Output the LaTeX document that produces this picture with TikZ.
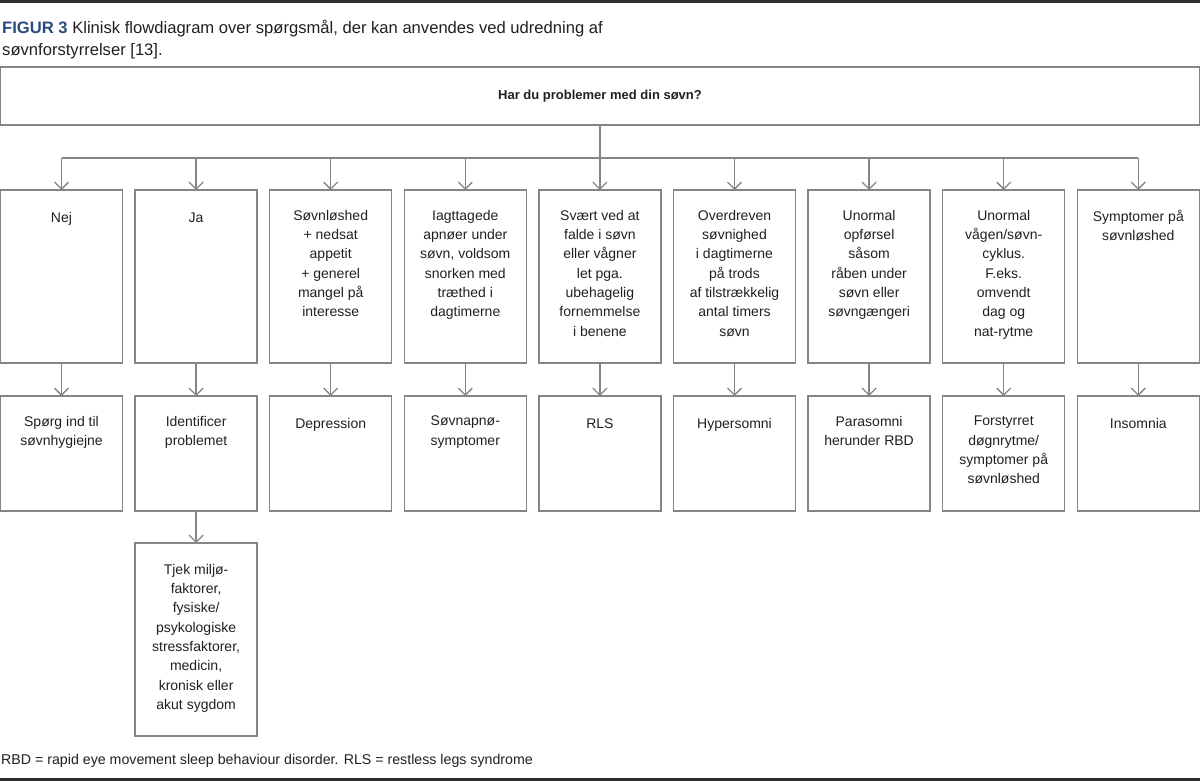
\documentclass[tikz,border=0pt]{standalone}
\usepackage{fontspec}
\setmainfont{Liberation Sans}
\usepackage{tikz}
\usetikzlibrary{
  arrows.meta,
  positioning
}
\definecolor{fgBlue}{HTML}{2B4A7D}
\definecolor{fgText}{HTML}{231F20}
\definecolor{fgLine}{HTML}{858585}
\definecolor{fgRule}{HTML}{2E2E2E}
\newcommand{\fgstrut}{\rule{0pt}{12pt}}
\tikzset{
  fgbox/.style={
    draw=fgLine, line width=1.3pt, minimum width=122pt, inner sep=0pt, outer sep=0pt
  },
  askbox/.style={fgbox, minimum height=173pt},
  ansbox/.style={fgbox, minimum height=115pt},
  fgtext/.style={
    font=\fontsize{14}{19.3}\selectfont, text=fgText, align=center, inner sep=0pt,
    execute at begin node=\fgstrut
  },
  conn/.style={-{Straight Barb[length=7pt, width=14pt]}, draw=fgLine, line width=1.3pt},
  busline/.style={draw=fgLine, line width=1.3pt},
  rule/.style={draw=fgRule, line width=3pt}
}

\begin{document}
\begin{tikzpicture}[x=1pt, y=-1pt, node distance=12.6pt]
  \useasboundingbox (0,0) rectangle (1200,781);
  \draw[rule] (0,1.5) -- (1200,1.5);
  \draw[rule] (0,779.5) -- (1200,779.5);
  % caption
  \node[fgtext, font=\fontsize{16.6}{21.5}\selectfont, align=left, anchor=north west] (caption) at (2,20)
    {\textcolor{fgBlue}{\bfseries FIGUR 3} Klinisk flowdiagram over spørgsmål, der kan anvendes ved udredning af\\søvnforstyrrelser [13].};
  % question
  \node[fgbox, minimum width=1199pt, minimum height=58pt, anchor=north west,
        font=\bfseries\fontsize{13}{16}\selectfont, text=fgText] (top) at (0.5,67) {Har du problemer med din søvn?};
  % first row
  \node[askbox, anchor=north west] (q1) at (0.5,190) {};
  \node[askbox, right=of q1] (q2) {};
  \node[askbox, right=of q2] (q3) {};
  \node[askbox, right=of q3] (q4) {};
  \node[askbox, right=of q4] (q5) {};
  \node[askbox, right=of q5] (q6) {};
  \node[askbox, right=of q6] (q7) {};
  \node[askbox, right=of q7] (q8) {};
  \node[askbox, right=of q8] (q9) {};
  \node[fgtext, below=20pt of q1.north] (tq1) {Nej};
  \node[fgtext, below=20pt of q2.north] (tq2) {Ja};
  \node[fgtext, below=20pt of q3.north] (tq3) {Søvnløshed\\+ nedsat\\appetit\\+ generel\\mangel på\\interesse};
  \node[fgtext, below=20pt of q4.north] (tq4) {Iagttagede\\apnøer under\\søvn, voldsom\\snorken med\\træthed i\\dagtimerne};
  \node[fgtext, below=20pt of q5.north] (tq5) {Svært ved at\\falde i søvn\\eller vågner\\let pga.\\ubehagelig\\fornemmelse\\i benene};
  \node[fgtext, below=20pt of q6.north] (tq6) {Overdreven\\søvnighed\\i dagtimerne\\på trods\\af tilstrækkelig\\antal timers\\søvn};
  \node[fgtext, below=20pt of q7.north] (tq7) {Unormal\\opførsel\\såsom\\råben under\\søvn eller\\søvngængeri};
  \node[fgtext, below=20pt of q8.north] (tq8) {Unormal\\vågen/søvn-\\cyklus.\\F.eks.\\omvendt\\dag og\\nat-rytme};
  \node[fgtext, below=20pt of q9.north] (tq9) {Symptomer på\\søvnløshed};
  % second row
  \node[ansbox, below=33pt of q1] (a1) {};
  \node[ansbox, below=33pt of q2] (a2) {};
  \node[ansbox, below=33pt of q3] (a3) {};
  \node[ansbox, below=33pt of q4] (a4) {};
  \node[ansbox, below=33pt of q5] (a5) {};
  \node[ansbox, below=33pt of q6] (a6) {};
  \node[ansbox, below=33pt of q7] (a7) {};
  \node[ansbox, below=33pt of q8] (a8) {};
  \node[ansbox, below=33pt of q9] (a9) {};
  \node[fgtext, below=20pt of a1.north] (ta1) {Spørg ind til\\søvnhygiejne};
  \node[fgtext, below=20pt of a2.north] (ta2) {Identificer\\problemet};
  \node[fgtext, below=20pt of a3.north] (ta3) {Depression};
  \node[fgtext, below=20pt of a4.north] (ta4) {Søvnapnø-\\symptomer};
  \node[fgtext, below=20pt of a5.north] (ta5) {RLS};
  \node[fgtext, below=20pt of a6.north] (ta6) {Hypersomni};
  \node[fgtext, below=20pt of a7.north] (ta7) {Parasomni\\herunder RBD};
  \node[fgtext, below=20pt of a8.north] (ta8) {Forstyrret\\døgnrytme/\\symptomer på\\søvnløshed};
  \node[fgtext, below=20pt of a9.north] (ta9) {Insomnia};
  % third row
  \node[fgbox, minimum height=193pt, below=32pt of a2] (check) {};
  \node[fgtext, below=21pt of check.north] (tcheck) {Tjek miljø-\\faktorer,\\fysiske/\\psykologiske\\stressfaktorer,\\medicin,\\kronisk eller\\akut sygdom};
  % connectors
  \coordinate[below=33pt of top.south] (bus);
  \draw[busline] (top) -- (bus);
  \draw[busline] (bus -| q1) -- (bus -| q9);
  \draw[conn] (bus -| q1) -- (q1);
  \draw[conn] (bus -| q2) -- (q2);
  \draw[conn] (bus -| q3) -- (q3);
  \draw[conn] (bus -| q4) -- (q4);
  \draw[conn] (bus -| q5) -- (q5);
  \draw[conn] (bus -| q6) -- (q6);
  \draw[conn] (bus -| q7) -- (q7);
  \draw[conn] (bus -| q8) -- (q8);
  \draw[conn] (bus -| q9) -- (q9);
  \draw[conn] (q1) -- (a1);
  \draw[conn] (q2) -- (a2);
  \draw[conn] (q3) -- (a3);
  \draw[conn] (q4) -- (a4);
  \draw[conn] (q5) -- (a5);
  \draw[conn] (q6) -- (a6);
  \draw[conn] (q7) -- (a7);
  \draw[conn] (q8) -- (a8);
  \draw[conn] (q9) -- (a9);
  \draw[conn] (a2) -- (check);
  % footnote
  \node[anchor=base west, inner sep=0pt, font=\fontsize{14.2}{17}\selectfont, text=fgText] (note) at (1,764)
    {RBD = rapid eye movement sleep behaviour disorder. RLS = restless legs syndrome};
\end{tikzpicture}
\end{document}
